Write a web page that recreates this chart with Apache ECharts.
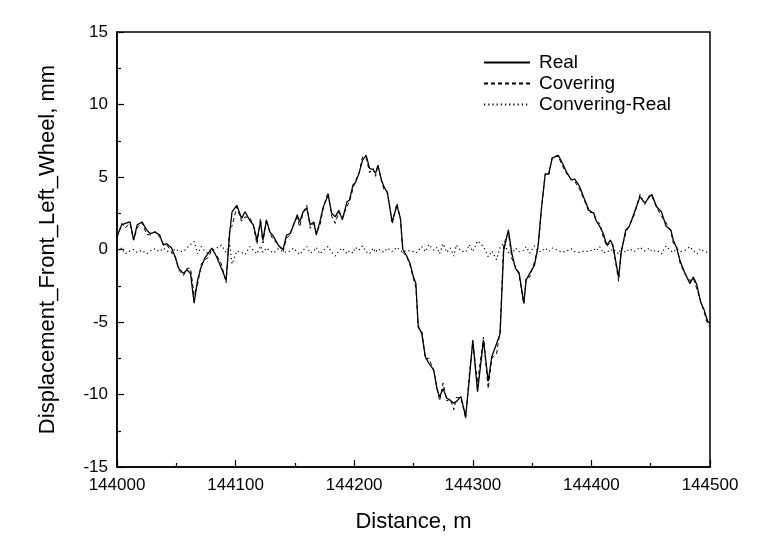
<!DOCTYPE html>
<html>
<head>
<meta charset="utf-8">
<script src="https://cdn.jsdelivr.net/npm/echarts@6/dist/echarts.min.js"></script>
<style>
  html, body { margin: 0; padding: 0; background: #fff; }
  #main { width: 764px; height: 548px; }
</style>
</head>
<body>
<div id="main"></div>
<script>
// distance along the track, m
var distance = [
  144000,144004,144007,144011,144014,144017,144021,144025,144028,144032,
  144036,144039,144042,144046,144049,144052,144056,144059,144062,144065,
  144068,144071,144074,144077,144080,144084,144088,144092,144095,144097,
  144101,144105,144108,144112,144115,144118,144121,144123,144126,144129,
  144132,144136,144140,144143,144146,144149,144152,144154,144157,144160,
  144163,144166,144168,144171,144174,144178,144181,144184,144187,144190,
  144194,144196,144199,144201,144204,144207,144210,144213,144216,144218,
  144220,144223,144225,144228,144232,144236,144239,144241,144244,144247,
  144250,144252,144254,144257,144260,144263,144267,144270,144272,144275,
  144278,144281,144284,144286,144290,144294,144297,144300,144304,144309,
  144313,144316,144320,144323,144326,144330,144333,144336,144339,144343,
  144345,144348,144352,144355,144358,144361,144364,144367,144372,144375,
  144379,144383,144386,144390,144394,144398,144402,144404,144407,144410,
  144413,144416,144418,144423,144425,144429,144432,144436,144441,144445,
  144449,144451,144455,144459,144463,144467,144469,144472,144475,144479,
  144483,144486,144489,144492,144495,144498,144500
];

// Real
var real = [
  0.9,1.7,1.8,1.9,0.65,1.7,1.9,1.35,1.1,1.2,
  1.0,0.3,0.4,0.1,-0.5,-1.3,-1.65,-1.4,-1.65,-3.7,
  -2.1,-1.2,-0.6,-0.25,0.1,-0.5,-1.3,-2.1,1.1,2.6,
  3.05,2.15,2.6,2.0,1.7,0.65,1.9,0.65,2.0,1.2,
  0.9,0.3,0.0,1.0,1.1,1.7,2.4,1.9,2.6,2.85,
  1.7,1.9,1.0,1.9,2.95,3.75,2.5,2.25,2.7,2.05,
  3.3,3.4,4.45,4.6,5.25,6.15,6.5,5.6,5.5,5.25,
  5.8,4.8,4.35,3.9,1.9,3.05,2.15,0.0,-0.4,-0.95,
  -1.9,-2.35,-5.3,-5.8,-7.4,-7.85,-8.3,-9.7,-10.15,-9.6,
  -10.25,-10.4,-10.6,-10.5,-10.15,-11.5,-9.0,-6.25,-9.8,-6.25,
  -9.1,-7.4,-6.5,-5.8,-0.1,1.35,-0.3,-1.3,-1.6,-3.7,
  -2.1,-1.65,-1.1,0.2,2.95,5.15,5.25,6.3,6.5,6.05,
  5.35,4.8,4.85,4.35,3.5,2.7,2.5,2.0,1.6,1.1,
  0.3,0.65,0.3,-1.9,-0.25,1.35,1.6,2.5,3.65,3.2,
  3.65,3.8,2.95,2.6,1.6,1.35,0.65,0.1,-0.85,-1.65,
  -2.35,-1.9,-2.45,-3.6,-4.15,-4.95,-5.1
];

// Covering
var covering = [
  0.8,1.8,1.5,1.8,0.65,1.5,1.85,1.05,1.0,1.25,
  0.85,0.4,0.3,-0.15,-0.45,-1.4,-1.8,-1.3,-1.3,-3.15,
  -2.4,-1.0,-0.7,-0.55,0.0,-0.4,-1.0,-2.3,1.5,1.6,
  2.95,1.95,2.25,2.2,1.65,0.35,2.15,0.45,2.1,1.1,
  0.65,0.35,-0.15,0.8,1.0,1.8,2.2,1.55,2.55,3.05,
  1.45,1.8,1.15,1.6,2.9,3.95,2.3,1.8,2.6,2.15,
  3.0,3.3,4.2,4.75,5.2,6.4,6.35,5.3,5.6,5.05,
  5.85,4.7,4.15,4.0,1.75,3.2,2.05,-0.2,-0.45,-1.05,
  -2.05,-2.6,-5.4,-5.6,-7.55,-7.5,-8.35,-9.55,-10.45,-9.2,
  -10.45,-10.3,-11.05,-10.2,-10.25,-11.7,-8.65,-6.4,-9.2,-6.05,
  -9.6,-7.5,-7.2,-5.65,0.35,1.15,-0.65,-1.2,-1.75,-3.75,
  -1.9,-1.9,-0.85,0.1,2.8,5.25,5.1,6.4,6.45,5.85,
  5.25,4.85,4.7,4.15,3.4,2.55,2.55,1.9,1.8,0.85,
  0.2,0.5,0.35,-2.2,-0.15,1.15,1.65,2.35,3.8,3.1,
  3.75,3.65,2.9,2.3,1.85,1.25,0.45,0.15,-1.0,-1.7,
  -2.15,-2.0,-2.75,-3.55,-4.3,-5.15,-5.35
];

// Convering-Real
var diff = [
  -0.1,0.1,-0.3,-0.1,0.0,-0.2,-0.05,-0.3,-0.1,0.05,
  -0.15,0.1,-0.1,-0.25,0.05,-0.1,-0.15,0.1,0.35,0.55,
  -0.3,0.2,-0.1,-0.3,-0.1,0.1,0.3,-0.2,0.4,-1.0,
  -0.1,-0.2,-0.35,0.2,-0.05,-0.3,0.25,-0.2,0.1,-0.1,
  -0.25,0.05,-0.15,-0.2,-0.1,0.1,-0.2,-0.35,-0.05,0.2,
  -0.25,-0.1,0.15,-0.3,-0.05,0.2,-0.2,-0.45,-0.1,0.1,
  -0.3,-0.1,-0.25,0.15,-0.05,0.25,-0.15,-0.3,0.1,-0.2,
  0.05,-0.1,-0.2,0.1,-0.15,0.15,-0.1,-0.2,-0.05,-0.1,
  -0.15,-0.25,-0.1,0.2,-0.15,0.35,-0.05,0.15,-0.3,0.4,
  -0.2,0.1,-0.45,0.3,-0.1,-0.2,0.35,-0.15,0.6,0.2,
  -0.5,-0.1,-0.7,0.15,0.45,-0.2,-0.35,0.1,-0.15,-0.05,
  0.2,-0.25,0.25,-0.1,-0.15,0.1,-0.15,0.1,-0.05,-0.2,
  -0.1,0.05,-0.15,-0.2,-0.1,-0.15,0.05,-0.1,0.2,-0.25,
  -0.1,-0.15,0.05,-0.3,0.1,-0.2,0.05,-0.15,0.15,-0.1,
  0.1,-0.15,-0.05,-0.3,0.25,-0.1,-0.2,0.05,-0.15,-0.05,
  0.2,-0.1,-0.3,0.05,-0.15,-0.2,-0.25
];

function pairs(ys) {
  return distance.map(function (x, i) { return [x, ys[i]]; });
}

var chart = echarts.init(document.getElementById('main'));
var font = 'Liberation Sans, Arial, sans-serif';

var axisCommon = {
  axisLine: { show: true, onZero: false, lineStyle: { color: '#000', width: 1.5 } },
  axisTick: { show: true, inside: true, length: 7, lineStyle: { color: '#000', width: 1.2 } },
  minorTick: { show: true, splitNumber: 2, length: 4, lineStyle: { color: '#000', width: 1.2 } },
  splitLine: { show: false },
  nameTextStyle: { color: '#000', fontSize: 22, fontFamily: font }
};

var option = {
  backgroundColor: '#fff',
  animation: false,
  grid: {
    left: 117, right: 54, top: 32, bottom: 81,
    show: true, borderColor: '#000', borderWidth: 1.5
  },
  legend: {
    orient: 'vertical',
    left: 478,
    top: 48,
    itemWidth: 46,
    itemHeight: 4,
    itemGap: 2,
    itemStyle: { opacity: 0 },
    textStyle: { color: '#000', fontSize: 19, fontFamily: font, padding: [0, 0, 0, 4] },
    data: ['Real', 'Covering', 'Convering-Real']
  },
  xAxis: Object.assign({
    type: 'value',
    min: 144000, max: 144500, interval: 100,
    name: 'Distance, m',
    nameLocation: 'middle',
    nameGap: 44,
    axisLabel: {
      color: '#000', fontSize: 17, fontFamily: font, margin: 10,
      formatter: function (v) { return String(v); }
    }
  }, axisCommon),
  yAxis: Object.assign({
    type: 'value',
    min: -15, max: 15, interval: 5,
    name: 'Displacement_Front_Left_Wheel, mm',
    nameLocation: 'middle',
    nameGap: 58,
    axisLabel: { color: '#000', fontSize: 17, fontFamily: font, margin: 9 }
  }, axisCommon),
  series: [{
    name: 'Real',
    type: 'line',
    data: pairs(real),
    symbol: 'none',
    lineStyle: { color: '#000', width: 1.3 },
    itemStyle: { color: '#000' },
    z: 3
  }, {
    name: 'Covering',
    type: 'line',
    data: pairs(covering),
    symbol: 'none',
    lineStyle: { color: '#000', width: 1, type: [4, 3] },
    itemStyle: { color: '#000' },
    z: 2
  }, {
    name: 'Convering-Real',
    type: 'line',
    data: pairs(diff),
    symbol: 'none',
    lineStyle: { color: '#000', width: 1.2, type: [1.2, 3] },
    itemStyle: { color: '#000' },
    z: 1
  }]
};

chart.setOption(option);
</script>
</body>
</html>
